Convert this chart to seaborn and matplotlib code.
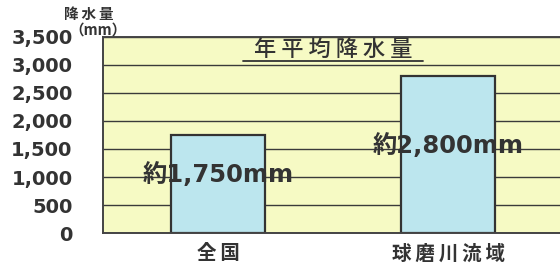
import matplotlib
matplotlib.use("Agg")
import matplotlib.pyplot as plt
import seaborn as sns
import pandas as pd

categories = ["全国", "球磨川流域"]
values = [1750, 2800]
value_labels = ["約1,750mm", "約2,800mm"]
label_y = [1040, 1570]
yticks = [0, 500, 1000, 1500, 2000, 2500, 3000, 3500]
ytick_labels = ["0", "500", "1,000", "1,500", "2,000", "2,500", "3,000", "3,500"]
title = "年平均降水量"
ylabel = "降水量"
yunit = "（mm）"

sns.set_theme(style="white")
FAM = ['Noto Sans CJK JP', 'DejaVu Sans']
NUMFAM = ['DejaVu Sans', 'Noto Sans CJK JP']
plt.rcParams['font.family'] = FAM


def spaced(s, sep="\u2009"):
    return sep.join(list(s))


df = pd.DataFrame({"cat": categories, "val": values})

fig = plt.figure(figsize=(5.6, 2.66), dpi=100)
ax = fig.add_axes([0.184, 0.124, 0.816, 0.737])
ax.set_facecolor("#F6FAC4")
ax.set_axisbelow(True)
ax.grid(axis="y", color="#3a3a3a", linewidth=1.0)
ax.grid(axis="x", visible=False)

sns.barplot(data=df, x="cat", y="val", color="#BCE6EE", width=0.41,
            edgecolor="#333333", linewidth=1.6, saturation=1, ax=ax, zorder=2)

ax.set_ylim(0, 3500)
ax.set_xlim(-0.5, 1.487)
ax.set_yticks(yticks)
ax.set_yticklabels(ytick_labels, fontsize=14, fontweight="bold",
                   color="#333333", family=NUMFAM)
ax.tick_params(axis="y", length=0, pad=22)
ax.tick_params(axis="x", length=0, pad=8)
ax.set_xticks(range(len(categories)))
ax.set_xticklabels([spaced(c, "\u2009") for c in categories], fontsize=14,
                   fontweight="bold", color="#333333", family=FAM)
ax.set_xlabel("")
ax.set_ylabel("")
for s in ["left", "bottom", "top"]:
    ax.spines[s].set_visible(True)
    ax.spines[s].set_color("#444444")
    ax.spines[s].set_linewidth(1.4)
ax.spines["right"].set_visible(False)

for i, (t, yv) in enumerate(zip(value_labels, label_y)):
    ax.text(i, yv, t, ha="center", va="center", fontsize=17.5, fontweight="bold",
            color="#333333", zorder=5, family=NUMFAM)

fig.text(333/560, 1 - 49/266, spaced(title, " "), ha="center", va="center",
         fontsize=16, fontweight="medium", color="#333333", family=FAM)
fig.add_artist(plt.Line2D([243/560, 423/560], [1 - 61/266, 1 - 61/266],
                          color="#333333", linewidth=1.3))

fig.text(89/560, 1 - 14/266, spaced(ylabel, "\u2009"), ha="center", va="center",
         fontsize=10.5, fontweight="bold", color="#333333", family=FAM)
fig.text(98/560, 1 - 30/266, yunit, ha="center", va="center", fontsize=10.5,
         fontweight="bold", color="#333333", family=FAM)

fig.savefig("out.png", dpi=100, facecolor="white")
